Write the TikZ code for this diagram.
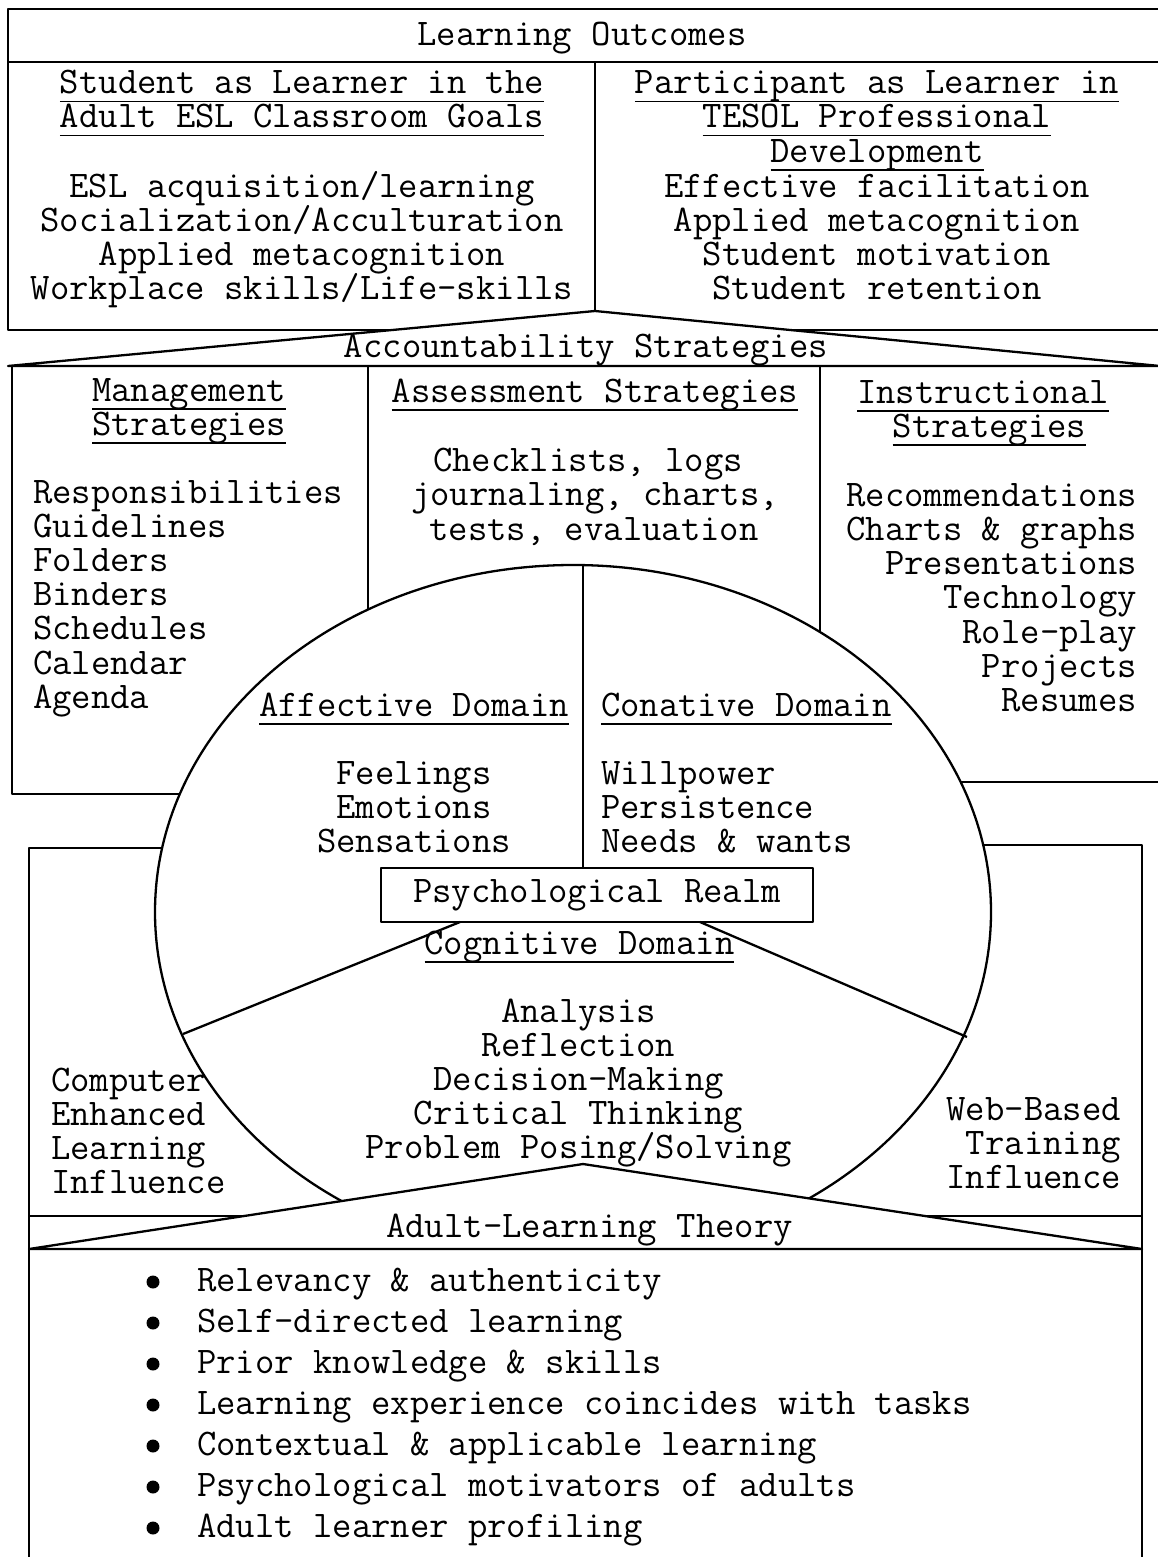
\documentclass[tikz,border=0pt]{standalone}
\newcommand\ulx[1]{\setbox0=\hbox{#1}\rlap{\rule[-8.5pt]{\wd0}{1.8pt}}\box0}
\begin{document}
\begin{tikzpicture}[x=1pt,y=-1pt,line width=2.3pt,line join=round,
  txt/.style={inner sep=0pt,font=\ttfamily\fontsize{37.6}{34}\selectfont},
  ctr/.style={txt,anchor=base},
  lft/.style={txt,anchor=base west},
  rgt/.style={txt,anchor=base east},
  dot/.style={circle,fill=black,inner sep=0pt,minimum size=13pt},
  frame/.style={draw=black,line width=2.3pt}]
\useasboundingbox (0,0) rectangle (1157,1557);
\fill[white] (0,0) rectangle (1157,1557);
% ---------- top box ----------
\draw[frame] (1160,9) -- (8,9) -- (8,330) -- (1160,330);
\draw[frame] (8,62) -- (1160,62);
\coordinate (apexA) at (595,311);
\coordinate (baseAL) at (8,366);
\coordinate (baseAR) at (1160,366);
\draw[frame] (595,62) -- (apexA);
\draw[frame,fill=white] (apexA) -- (baseAL) -- (baseAR) -- cycle;
% ---------- middle boxes ----------
\draw[frame] (12,366) -- (12,794) -- (400,794);
\draw[frame] (368,366) -- (368,800);
\draw[frame] (820,366) -- (820,800);
\draw[frame] (700,782) -- (1160,782);
% ---------- lower boxes ----------
\draw[frame] (29,1560) -- (29,848) -- (500,848);
\draw[frame] (700,845) -- (1142,845) -- (1142,1560);
\draw[frame] (29,1216) -- (1142,1216);
% ---------- ellipse (hidden below the theory band) ----------
\begin{scope}
  \clip (0,0) rectangle (1157,1245);
  \draw[frame,fill=white] (573,912) ellipse [x radius=418pt,y radius=347pt];
\end{scope}
% ---------- adult learning triangle ----------
\coordinate (apexB) at (583,1164);
\coordinate (baseBL) at (29,1249);
\coordinate (baseBR) at (1142,1249);
\draw[frame,fill=white] (apexB) -- (baseBL) -- (baseBR) -- cycle;
% ---------- inner divisions ----------
\node[draw,line width=2.3pt,minimum width=432pt,minimum height=54pt,inner sep=0pt,
  font=\ttfamily\fontsize{37.6}{34}\selectfont] (psych) at (597,895) {Psychological Realm};
\coordinate (etop) at (583,565);
\draw[frame] (etop) -- (psych.north -| etop);
\coordinate (cl0) at (460,922);
\coordinate (cl1) at (183,1034);
\coordinate (cr0) at (700,922);
\coordinate (cr1) at (967,1037);
\draw[frame] (cl0) -- (cl1);
\draw[frame] (cr0) -- (cr1);
% ---------- texts: top ----------
\node[ctr] (lo) at (582,46) {Learning Outcomes};
\node[ctr] (sa1) at (302,94) {\ulx{Student as Learner in the}};
\node[ctr] (sa2) at (302,128) {\ulx{Adult ESL Classroom Goals}};
\foreach \t [count=\i] in {ESL acquisition/learning,Socialization/Acculturation,Applied metacognition,Workplace skills/Life-skills}
  \node[ctr] (sl\i) at (302,{162.8+34.2*\i}) {\t};
\node[ctr] (pa1) at (877,94) {\ulx{Participant as Learner in}};
\node[ctr] (pa2) at (877,128) {\ulx{TESOL Professional}};
\node[ctr] (pa3) at (877,162.5) {\ulx{Development}};
\foreach \t [count=\i] in {Effective facilitation,Applied metacognition,Student motivation,Student retention}
  \node[ctr] (pl\i) at (877,{162.8+34.2*\i}) {\t};
% ---------- texts: middle ----------
\node[ctr] (acc) at (586,357) {Accountability Strategies};
\node[ctr] (ma1) at (189,401) {\ulx{Management}};
\node[ctr] (ma2) at (189,435) {\ulx{Strategies}};
\foreach \t [count=\i] in {Responsibilities,Guidelines,Folders,Binders,Schedules,Calendar,Agenda}
  \node[lft] (ml\i) at (32,{468.8+34.2*\i}) {\t};
\node[ctr] (as1) at (595,402) {\ulx{Assessment Strategies}};
\node[ctr] (al1) at (588,471) {Checklists, logs};
\node[ctr] (al2) at (595,505.5) {journaling, charts,};
\node[ctr] (al3) at (594,540) {tests, evaluation};
\node[ctr] (in1) at (983,403) {\ulx{Instructional}};
\node[ctr] (in2) at (989.5,437) {\ulx{Strategies}};
\foreach \t [count=\i] in {Recommendations,Charts \& graphs,Presentations,Technology,Role-play,Projects,Resumes}
  \node[rgt] (il\i) at (1138,{471.7+34.3*\i}) {\t};
% ---------- texts: circle ----------
\node[ctr] (af) at (414,716) {\ulx{Affective Domain}};
\node[lft] (co) at (600,716) {\ulx{Conative Domain}};
\foreach \t [count=\i] in {Feelings,Emotions,Sensations}
  \node[ctr] (afl\i) at (414,{750+34*\i}) {\t};
\foreach \t [count=\i] in {Willpower,Persistence,Needs \& wants}
  \node[lft] (col\i) at (600,{750+34*\i}) {\t};
\node[ctr] (cg) at (579.5,954) {\ulx{Cognitive Domain}};
\foreach \t [count=\i] in {Analysis,Reflection,Decision-Making,Critical Thinking,Problem Posing/Solving}
  \node[ctr] (cgl\i) at (578.5,{987.8+34.2*\i}) {\t};
% ---------- texts: lower ----------
\foreach \t [count=\i] in {Computer,Enhanced,Learning,Influence}
  \node[lft] (cel\i) at (50,{1057+34*\i}) {\t};
\foreach \t [count=\i] in {Web-Based,Training,Influence}
  \node[rgt] (wbl\i) at (1122,{1086+34*\i}) {\t};
\node[ctr] (alt) at (589.5,1237) {Adult-Learning Theory};
\foreach \t [count=\i] in {Relevancy \& authenticity,Self-directed learning,Prior knowledge \& skills,Learning experience coincides with tasks,Contextual \& applicable learning,Psychological motivators of adults,Adult learner profiling}{
  \node[dot] (bd\i) at (153,{1241+41*\i}) {};
  \node[lft] (bt\i) at (196,{1250+41*\i}) {\t};
}
\end{tikzpicture}
\end{document}
